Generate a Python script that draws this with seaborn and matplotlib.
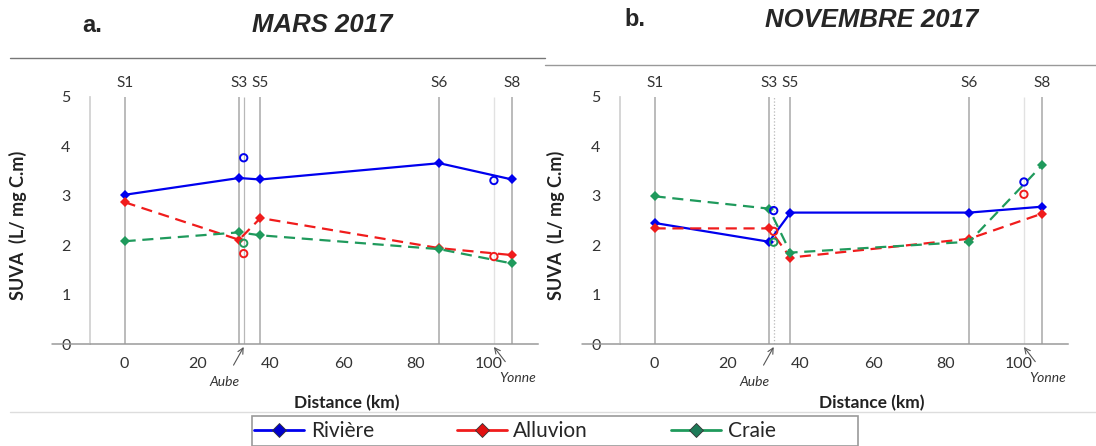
import numpy as np
import pandas as pd
import matplotlib
matplotlib.use("Agg")
import matplotlib.pyplot as plt
from matplotlib.lines import Line2D
from matplotlib.patches import Rectangle
import seaborn as sns

# ---------------- data ----------------
stations = ["S1", "S3", "S5", "S6", "S8"]
distance = [0, 31.4, 37.3, 86.4, 106.4]
trib_names = ["Aube", "Yonne"]
trib_distance = [32.7, 101.4]

types = ["Rivière", "Alluvion", "Craie"]

# MARS 2017
mars_riviere = [3.02, 3.36, 3.33, 3.66, 3.33]
mars_alluvion = [2.87, 2.11, 2.55, 1.94, 1.80]
mars_craie = [2.08, 2.26, 2.20, 1.92, 1.63]
mars_trib_riviere = [3.77, 3.31]
mars_trib_alluvion = [1.83, 1.77]
mars_trib_craie = [2.04, np.nan]

# NOVEMBRE 2017
nov_riviere = [2.45, 2.07, 2.66, 2.66, 2.78]
nov_alluvion = [2.34, 2.34, 1.75, 2.13, 2.64]
nov_craie = [2.99, 2.74, 1.85, 2.07, 3.62]
nov_trib_riviere = [2.70, 3.28]
nov_trib_alluvion = [2.28, 3.03]
nov_trib_craie = [2.06, np.nan]

colors = {"Rivière": "#0000ee", "Alluvion": "#f01c1c", "Craie": "#1f9a5c"}
legend_marker = {"Rivière": "#0000cc", "Alluvion": "#e01010", "Craie": "#1e7a58"}

sns.set_theme(style="white")
plt.rcParams["font.family"] = ["Lato", "DejaVu Sans"]

W, H = 1096, 446
fig = plt.figure(figsize=(W / 100, H / 100), dpi=100)
ax1 = fig.add_axes([90 / W, (H - 344) / H, 448 / W, 247 / H])
ax2 = fig.add_axes([620 / W, (H - 344) / H, 448 / W, 247 / H])


def draw_panel(ax, riv, allu, craie, t_riv, t_allu, t_craie, trib_style, ylab_x, xlab_x):
    # station and tributary reference lines
    ax.vlines(distance, 0, 5, color="#a8a8a8", lw=1.1, zorder=1)
    ax.vlines(trib_distance[0], 0, 5, color="#b8b8b8", lw=0.9, linestyles=trib_style, zorder=1)
    ax.vlines(trib_distance[1], 0, 5, color="#e2e2e2", lw=1.0, zorder=1)
    for s, d in zip(stations, distance):
        ax.text(d, 5.28, s, ha="center", va="center", fontsize=11, color="#333333")

    df = pd.DataFrame({
        "distance": distance * 3,
        "suva": riv + allu + craie,
        "type": np.repeat(types, len(distance)),
    })
    sns.lineplot(data=df, x="distance", y="suva", hue="type", style="type",
                 palette=colors, hue_order=types,
                 dashes={"Rivière": "", "Alluvion": (5, 3), "Craie": (5, 3)},
                 markers={"Rivière": "D", "Alluvion": "D", "Craie": "D"},
                 markersize=5, markeredgewidth=0, linewidth=1.6,
                 legend=False, ax=ax, zorder=3)

    for name, vals in zip(types, [t_riv, t_allu, t_craie]):
        sns.scatterplot(x=trib_distance, y=vals, marker="o", s=28,
                        color=colors[name], facecolor="none", edgecolor=colors[name],
                        linewidth=1.4, ax=ax, zorder=4)

    ax.set_xlim(-9.5, 113.5)
    ax.set_ylim(0, 5)
    ax.set_xticks([0, 20, 40, 60, 80, 100])
    ax.set_yticks([0, 1, 2, 3, 4, 5])
    ax.tick_params(axis="x", length=0, pad=9, labelsize=11.5, labelcolor="#333333")
    ax.tick_params(axis="y", direction="in", length=3, width=0.8, color="#c8c8c8",
                   pad=14, labelsize=11.5, labelcolor="#333333")
    for sp in ["top", "right"]:
        ax.spines[sp].set_visible(False)
    ax.spines["left"].set_color("#d0d0d0")
    ax.spines["bottom"].set_color("#9a9a9a")
    ax.spines["bottom"].set_linewidth(1.1)
    # axis line running under the "0" label
    ax.plot([-0.085, 0], [0, 0], transform=ax.transAxes, color="#9a9a9a",
            lw=1.1, clip_on=False)

    ax.set_ylabel("SUVA  (L/ mg C.m)", fontsize=13, fontweight="bold", color="#222222")
    ax.yaxis.set_label_coords(ylab_x, 0.48)
    ax.set_xlabel("Distance (km)", fontsize=12.5, fontweight="bold", color="#222222")
    ax.xaxis.set_label_coords(xlab_x, -0.205)

    ax.annotate("Aube", xy=(trib_distance[0], -0.06), xytext=(-14, -25),
                textcoords="offset points", ha="center", va="center",
                style="italic", fontsize=10, color="#333333", annotation_clip=False,
                arrowprops=dict(arrowstyle="->", color="#555555", lw=0.8,
                                shrinkA=6, shrinkB=0))
    ax.annotate("Yonne", xy=(trib_distance[1], -0.06), xytext=(17, -22),
                textcoords="offset points", ha="center", va="center",
                style="italic", fontsize=10, color="#333333", annotation_clip=False,
                arrowprops=dict(arrowstyle="->", color="#555555", lw=0.8,
                                shrinkA=6, shrinkB=0))


draw_panel(ax1, mars_riviere, mars_alluvion, mars_craie,
           mars_trib_riviere, mars_trib_alluvion, mars_trib_craie,
           "solid", -0.14, 0.574)
draw_panel(ax2, nov_riviere, nov_alluvion, nov_craie,
           nov_trib_riviere, nov_trib_alluvion, nov_trib_craie,
           ":", -0.123, 0.5625)

# titles
title_font = ["Liberation Sans", "DejaVu Sans"]
fig.text(92 / W, 1 - 25 / H, "a.", fontsize=17, fontweight="bold", family=title_font,
         ha="center", va="center")
fig.text(322 / W, 1 - 25 / H, "MARS 2017", fontsize=18.5, fontweight="bold", style="italic",
         family=title_font, ha="center", va="center")
fig.text(635 / W, 1 - 20 / H, "b.", fontsize=17, fontweight="bold", family=title_font,
         ha="center", va="center")
fig.text(872 / W, 1 - 20 / H, "NOVEMBRE 2017", fontsize=18.5, fontweight="bold", style="italic",
         family=title_font, ha="center", va="center")

# panel frame lines
fig.add_artist(Line2D([10 / W, 545 / W], [1 - 58 / H] * 2, color="#777777", lw=1.0))
fig.add_artist(Line2D([545 / W, 1.0], [1 - 65 / H] * 2, color="#999999", lw=1.0))
fig.add_artist(Line2D([10 / W, 1.0], [1 - 412 / H] * 2, color="#dddddd", lw=1.0))

# legend
fig.add_artist(Rectangle((252 / W, 0), 606 / W, 30 / H, transform=fig.transFigure,
                         fill=False, edgecolor="#9a9a9a", lw=1.2))
handles = [Line2D([], [], color=colors[t], lw=2, marker="D", markersize=7,
                  markerfacecolor=legend_marker[t], markeredgecolor="#333333",
                  markeredgewidth=0.6) for t in types]
fig.legend(handles, types, loc="center left", bbox_to_anchor=(244 / W, 15 / H),
           ncol=3, frameon=False, fontsize=15, handlelength=2.4, handletextpad=0.3,
           columnspacing=4.0, borderpad=0)

fig.savefig("out.png", dpi=100, facecolor="white")
